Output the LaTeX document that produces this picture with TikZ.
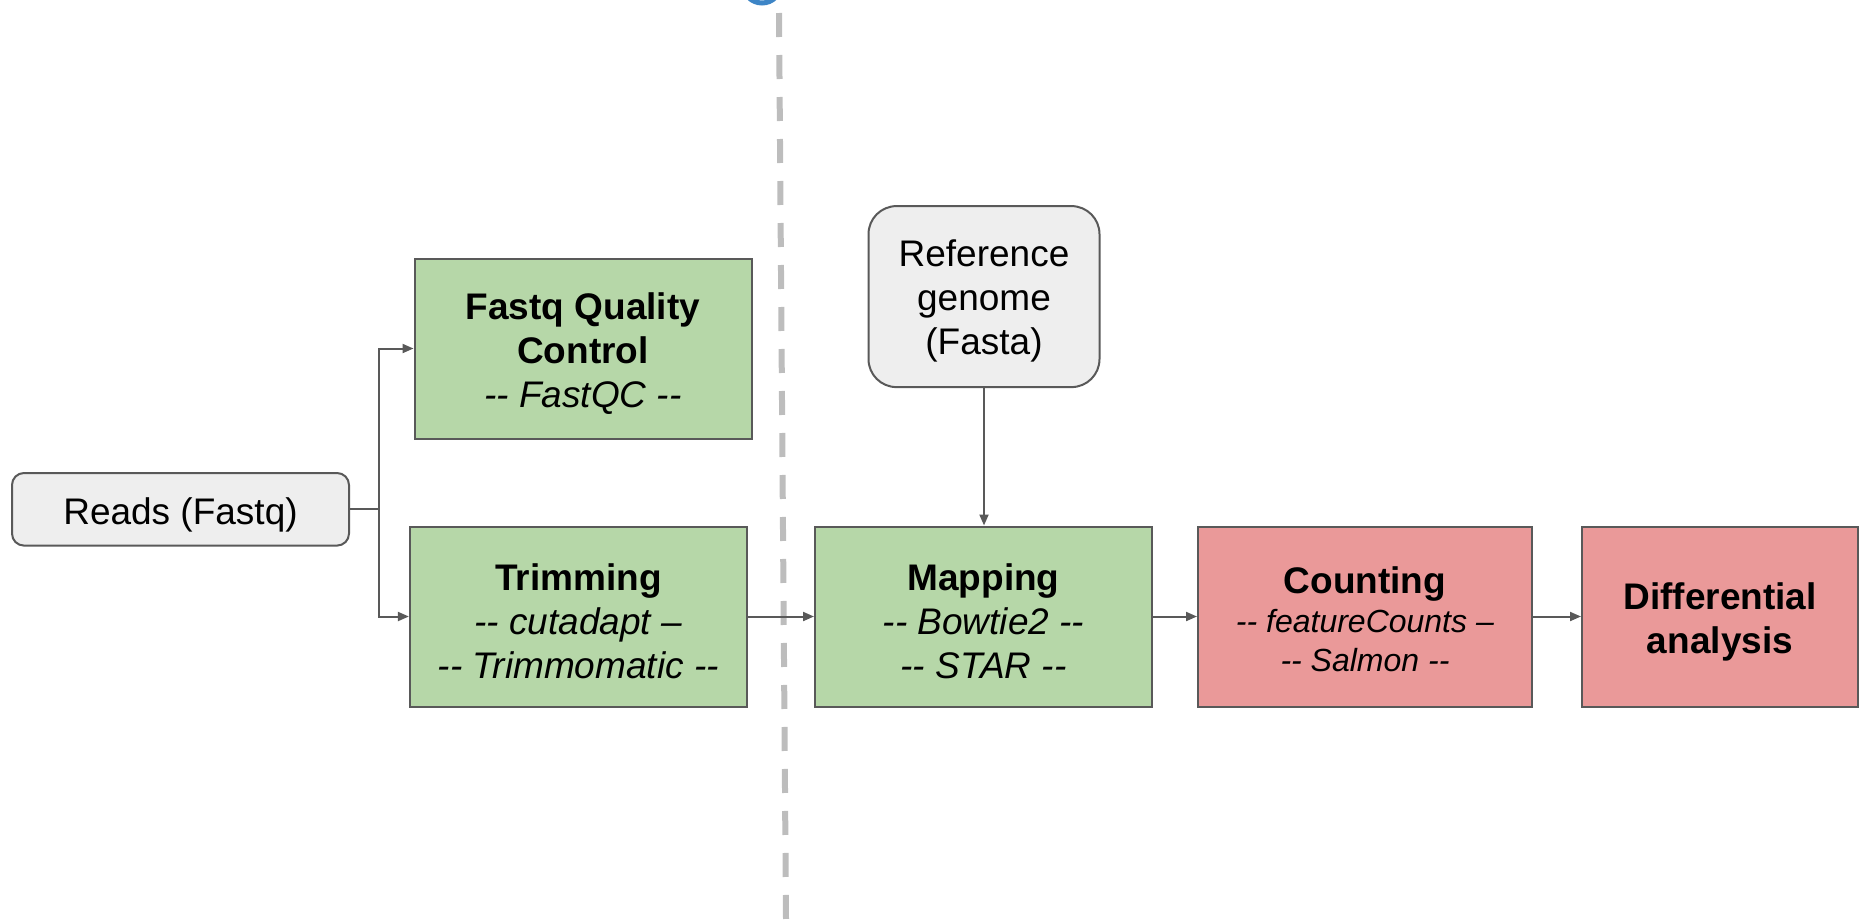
\documentclass[tikz,border=0pt]{standalone}
\usepackage{fontspec}
\setmainfont{Liberation Sans}[Ligatures=TeXOff]
\usetikzlibrary{arrows.meta}
\definecolor{gfill}{HTML}{B6D7A8}
\definecolor{rfill}{HTML}{EA9999}
\definecolor{pfill}{HTML}{EEEEEE}
\definecolor{edge}{HTML}{595959}
\definecolor{dashc}{HTML}{BDBDBD}
\definecolor{bluec}{HTML}{3D85C6}
\newcommand{\dnstrut}[1]{\rule{0pt}{#1}}
\tikzset{
  stepbox/.style={draw=edge, line width=2pt, rectangle, inner sep=0pt, align=center,
    font=\fontsize{37}{44}\selectfont},
  greenbox/.style={stepbox, fill=gfill},
  redbox/.style={stepbox, fill=rfill},
  graybox/.style={stepbox, fill=pfill},
  arr/.style={draw=edge, line width=2pt, -{Triangle[length=11pt,width=9pt]}},
  plainline/.style={draw=edge, line width=2pt},
}
\begin{document}
\begin{tikzpicture}[x=1pt,y=-1pt]
\useasboundingbox (0,0) rectangle (1868,919);
% blue partial arc at top
\begin{scope}
\clip (0,0) rectangle (1868,919);
\draw[bluec, line width=5pt] (762,-16) circle (19);
\end{scope}
% dashed separator
\draw[dashc, line width=6pt, dash pattern=on 24pt off 18pt] (779,13) -- (786,919);

\node[graybox, rounded corners=12pt, minimum width=337pt, minimum height=72.6pt] (reads) at (180.5,509.3) {\dnstrut{38pt}Reads (Fastq)};
\node[greenbox, minimum width=337pt, minimum height=180pt] (qc) at (583,348.5)
  {\dnstrut{37pt}\textbf{Fastq Quality}\\\textbf{Control}\\\textit{-- FastQC --}};
\node[greenbox, minimum width=337pt, minimum height=180pt] (trim) at (578.4,616.5)
  {\dnstrut{36pt}\textbf{Trimming}\\\textit{-- cutadapt –}\\\textit{-- Trimmomatic --}};
\node[greenbox, minimum width=337pt, minimum height=180pt] (map) at (983.5,616.5)
  {\dnstrut{36pt}\textbf{Mapping}\\\textit{-- Bowtie2 --}\\\textit{-- STAR --}};
\node[graybox, rounded corners=28pt, minimum width=231pt, minimum height=181pt] (ref) at (984,296.6)
  {\dnstrut{35pt}Reference\\genome\\(Fasta)};
\node[redbox, minimum width=334pt, minimum height=180pt, font=\fontsize{32}{39}\selectfont] (count) at (1365,616.5)
  {\dnstrut{32pt}{\fontsize{37}{39}\selectfont\bfseries Counting}\\\textit{-- featureCounts –}\\\textit{-- Salmon --}};
\node[redbox, minimum width=276pt, minimum height=180pt] (diff) at (1720,616.5)
  {\dnstrut{37pt}\textbf{Differential}\\\textbf{analysis}};

\coordinate (br) at (379,509.3);
\draw[plainline] (reads.east) -- (br);
\draw[arr] (br) |- (qc.west);
\draw[arr] (br) |- (trim.west);
\draw[arr] (trim.east) -- (map.west);
\draw[arr] (ref.south) -- (ref.south |- map.north);
\draw[arr] (map.east) -- (count.west);
\draw[arr] (count.east) -- (diff.west);
\end{tikzpicture}
\end{document}
